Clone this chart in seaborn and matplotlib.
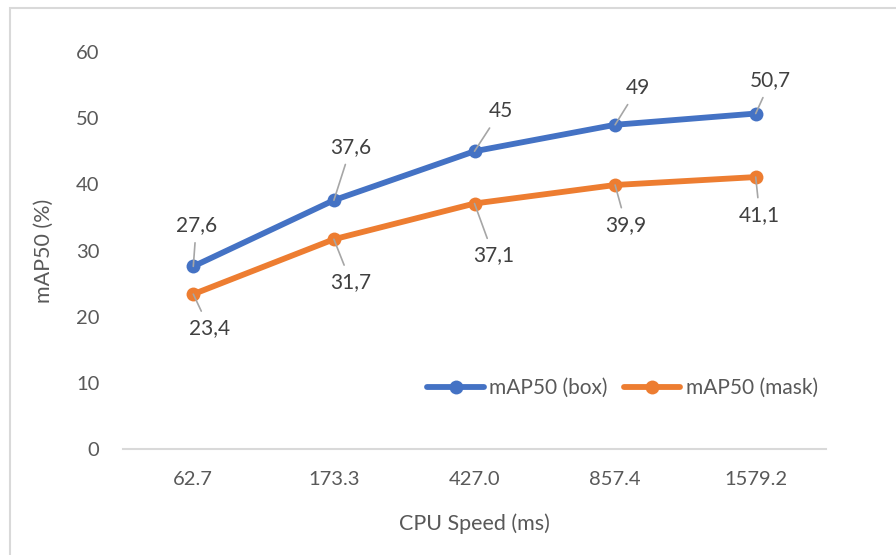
import matplotlib
matplotlib.use("Agg")
import matplotlib.pyplot as plt
from matplotlib.patches import Rectangle
import pandas as pd
import seaborn as sns

# CPU inference time per model size and the two accuracy series
cpu_speed = ["62.7", "173.3", "427.0", "857.4", "1579.2"]
map50_box = [27.6, 37.6, 45.0, 49.0, 50.7]
map50_mask = [23.4, 31.7, 37.1, 39.9, 41.1]
series_names = ["mAP50 (box)", "mAP50 (mask)"]
y_ticks = [0, 10, 20, 30, 40, 50, 60]

# label offsets in pixels relative to each point
box_offsets = [(3, 41), (17, 53), (26, 40), (23, 37), (15, 33)]
mask_offsets = [(16, -34), (17, -43), (19, -52), (11, -40), (4, -38)]

df = pd.DataFrame({
    "CPU Speed (ms)": cpu_speed * 2,
    "mAP50": map50_box + map50_mask,
    "series": [series_names[0]] * len(cpu_speed) + [series_names[1]] * len(cpu_speed),
})

sns.set_theme(style="white")
plt.rcParams["font.family"] = ["Lato", "DejaVu Sans"]

label_color = "#595959"
value_color = "#404040"
palette = {series_names[0]: "#4472C4", series_names[1]: "#ED7D31"}
fs = 14.5

fig = plt.figure(figsize=(8.96, 5.55), dpi=100)
ax = fig.add_axes([123 / 896, 1 - 449 / 555, 703 / 896, 397 / 555])

sns.lineplot(
    data=df, x="CPU Speed (ms)", y="mAP50", hue="series", palette=palette,
    marker="o", markersize=10, linewidth=4.2, markeredgewidth=0,
    sort=False, ax=ax,
)

ax.set_xlim(-0.5, len(cpu_speed) - 0.5)
ax.set_ylim(0, 60)
ax.set_yticks(y_ticks)
ax.set_yticklabels([str(t) for t in y_ticks])
ax.tick_params(axis="y", length=0, pad=17, labelsize=fs, labelcolor=label_color)
ax.tick_params(axis="x", length=0, pad=16, labelsize=fs, labelcolor=label_color)

for side in ["left", "right", "top"]:
    ax.spines[side].set_visible(False)
ax.spines["bottom"].set_color("#D9D9D9")
ax.spines["bottom"].set_linewidth(1.5)

ax.set_xlabel("CPU Speed (ms)", fontsize=fs + 1, color=label_color)
ax.set_ylabel("mAP50 (%)", fontsize=fs + 1, color=label_color)
ax.xaxis.set_label_coords(0.5, -0.163)
ax.yaxis.set_label_coords(-0.099, 0.5)

# value labels with leader lines
for values, offsets in [(map50_box, box_offsets), (map50_mask, mask_offsets)]:
    for i, (v, off) in enumerate(zip(values, offsets)):
        txt = f"{v:g}".replace(".", ",")
        ax.annotate(
            txt, xy=(i, v), xytext=off, textcoords="offset pixels",
            ha="center", va="center", fontsize=fs + 0.5, color=value_color,
            arrowprops=dict(arrowstyle="-", color="#A6A6A6", lw=1.2,
                            shrinkA=3, shrinkB=0),
        )

leg = ax.legend(
    loc="center right", bbox_to_anchor=(1.0, 0.154), ncol=2, frameon=False,
    fontsize=fs + 0.5, handlelength=2.7, columnspacing=0.8, handletextpad=0.25,
    borderaxespad=0,
)
for t in leg.get_texts():
    t.set_color(label_color)

# chart area frame
fig.patches.append(Rectangle((10 / 896, -0.1), 1.2, 1.1 - 8 / 555,
                             transform=fig.transFigure, fill=False,
                             edgecolor="#D9D9D9", linewidth=1.5))

fig.savefig("out.png", dpi=100)
